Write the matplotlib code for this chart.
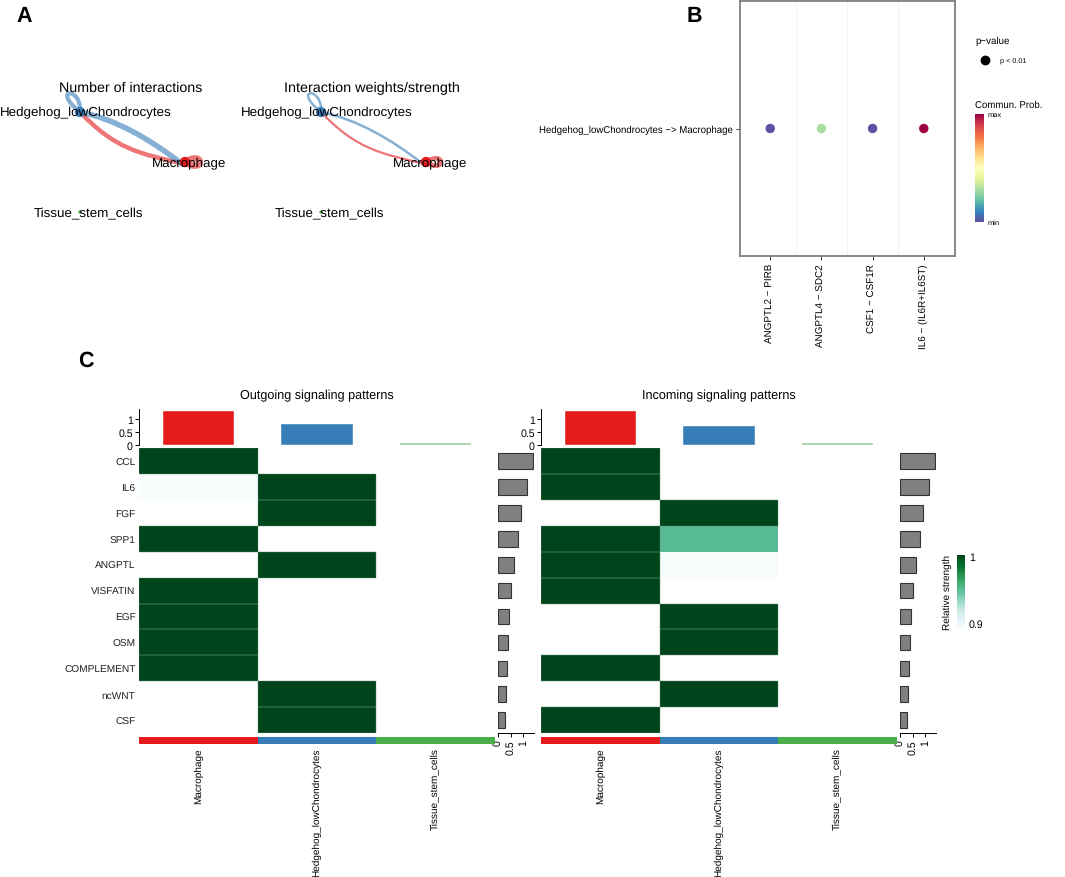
import numpy as np
import matplotlib
matplotlib.use('Agg')
import matplotlib.pyplot as plt
from matplotlib.path import Path
from matplotlib.patches import PathPatch, Rectangle
from matplotlib.colors import LinearSegmentedColormap

plt.rcParams['font.family'] = ['Liberation Sans', 'DejaVu Sans']
plt.rcParams['text.hinting'] = 'none'

W, H = 1065, 878
nan = np.nan

# panel C data
pathways = ['CCL', 'IL6', 'FGF', 'SPP1', 'ANGPTL', 'VISFATIN', 'EGF', 'OSM', 'COMPLEMENT', 'ncWNT', 'CSF']
cell_groups = ['Macrophage', 'Hedgehog_lowChondrocytes', 'Tissue_stem_cells']
group_colors = ['#e41a1c', '#377eb8', '#4daf4a']

outgoing = [[1, nan, nan], [0.9, 1, nan], [nan, 1, nan], [1, nan, nan], [nan, 1, nan], [1, nan, nan],
            [1, nan, nan], [1, nan, nan], [1, nan, nan], [nan, 1, nan], [nan, 1, nan]]
incoming = [[1, nan, nan], [1, nan, nan], [nan, 1, nan], [1, 0.955, nan], [1, 0.9, nan], [1, nan, nan],
            [nan, 1, nan], [nan, 1, nan], [1, nan, nan], [nan, 1, nan], [1, nan, nan]]
outgoing_top = [1.3, 0.8, 0.06]
incoming_top = [1.3, 0.73, 0.06]
outgoing_side = [1.4, 1.16, 0.92, 0.8, 0.64, 0.52, 0.44, 0.4, 0.36, 0.32, 0.28]
incoming_side = [1.4, 1.16, 0.92, 0.8, 0.64, 0.52, 0.44, 0.4, 0.36, 0.32, 0.28]

# panel B data
lr_pairs = ['ANGPTL2 \u2212 PIRB', 'ANGPTL4 \u2212 SDC2', 'CSF1 \u2212 CSF1R', 'IL6 \u2212 (IL6R+IL6ST)']
pair_label = 'Hedgehog_lowChondrocytes \u2212> Macrophage'
comm_prob = [0.0, 0.3, 0.0, 1.0]

# panel A data, network curves in picture pixels relative to the Hedgehog node
node_names = ['Hedgehog_lowChondrocytes', 'Macrophage', 'Tissue_stem_cells']
node_colors = ['#377eb8', '#e41a1c', '#4daf4a']
node_xy = [(0, 0), (105, 50), (0, 100)]
curve_out = [(0, 0), (35, 37), (60, 42), (105, 52)]
curve_in = [(0, 0), (35, 7), (70, 27), (102, 52)]
loop_blue = [(0, 0), (-30, -24), (2, -26), (0, 0)]
loop_red = [(105, 50), (125, 37), (125, 63), (105, 50)]


def px_axes(x0, y0, x1, y1, **kw):
    # axes from a box given in picture pixels
    return fig.add_axes([x0 / W, 1 - y1 / H, (x1 - x0) / W, (y1 - y0) / H], **kw)


def bezier(ax, pts, ox, oy, color, lw, alpha=0.6):
    pts = [(x + ox, y + oy) for x, y in pts]
    path = Path(pts, [Path.MOVETO, Path.CURVE4, Path.CURVE4, Path.CURVE4])
    ax.add_patch(PathPatch(path, fill=False, edgecolor=color, lw=lw, alpha=alpha, capstyle='round'))


fig = plt.figure(figsize=(W / 100, H / 100), dpi=100)
page = px_axes(0, 0, W, H)
page.set_xlim(0, W)
page.set_ylim(H, 0)
page.axis('off')

page.text(24, 16, 'A', fontsize=15.5, fontweight='bold', va='center', ha='center')
page.text(694, 16, 'B', fontsize=15.5, fontweight='bold', va='center', ha='center')
page.text(86, 361, 'C', fontsize=15.5, fontweight='bold', va='center', ha='center')


# panel A
def network(ox, title, title_x, size, lw_out, lw_in, lw_loop):
    oy = 113
    bezier(page, curve_out, ox, oy, group_colors[0], lw_out)
    bezier(page, curve_in, ox, oy, group_colors[1], lw_in)
    bezier(page, loop_blue, ox, oy, group_colors[1], lw_loop)
    bezier(page, loop_red, ox, oy, group_colors[0], lw_loop + 1.5)
    xs = [p[0] + ox for p in node_xy]
    ys = [p[1] + oy for p in node_xy]
    page.scatter(xs, ys, s=[55, 55, 6], c=node_colors, linewidths=0, zorder=3)
    page.text(title_x, 88.5, title, fontsize=size, ha='center', va='center', zorder=4)
    page.text(xs[0] + 6, ys[0], node_names[0], fontsize=9.65, ha='center', va='center', zorder=4)
    page.text(xs[1] + 4, ys[1] + 1, node_names[1], fontsize=9.65, ha='center', va='center', zorder=4)
    page.text(xs[2] + 8, ys[2] + 1, node_names[2], fontsize=9.65, ha='center', va='center', zorder=4)


network(80, 'Number of interactions', 130.5, 10.3, 3.2, 4.0, 3.0)
network(321, 'Interaction weights/strength', 371.5, 10.35, 1.6, 1.8, 1.8)

# panel B
ax = px_axes(739.5, 2, 954.5, 257)
x_pos = np.arange(1, len(lr_pairs) + 1)
ax.scatter(x_pos, [1] * len(x_pos), c=comm_prob, cmap='Spectral_r', vmin=0, vmax=1, s=46, linewidths=0, zorder=3)
ax.set_xlim(0.4, len(lr_pairs) + 0.6)
ax.set_ylim(0.4, 1.6)
ax.set_xticks(x_pos)
ax.set_xticklabels(lr_pairs, rotation=90, fontsize=7.1)
ax.set_yticks([1])
ax.set_yticklabels([pair_label], fontsize=6.95)
ax.tick_params(length=3, width=0.7, color='#333333', pad=2)
for mid in x_pos[:-1] + 0.5:
    ax.axvline(mid, color='#f0f0f0', lw=0.6, zorder=1)
for s in ax.spines.values():
    s.set_color('#7f7f7f')
    s.set_linewidth(1.3)

page.text(975, 41, 'p\u2212value', fontsize=7, va='center')
page.scatter([985], [61], s=50, c='black', linewidths=0)
page.text(1000, 61.5, 'p < 0.01', fontsize=5.2, va='center')
page.text(975, 105, 'Commun. Prob.', fontsize=6.9, va='center')
cb = px_axes(975, 115, 983.5, 223)
cb.imshow(np.linspace(1, 0, 256)[:, None], aspect='auto', cmap='Spectral_r')
cb.axis('off')
page.text(988, 115.5, 'max', fontsize=5.4, va='center')
page.text(988, 223.5, 'min', fontsize=5.4, va='center')

# panel C
strength = LinearSegmentedColormap.from_list('strength', plt.get_cmap('BuGn')(np.linspace(0, 1, 256)))
n_rows = len(pathways)
n_cols = len(cell_groups)


def signaling(x0, x1, side_x, title, matrix, top_vals, side_vals, show_rows):
    top = 449.3
    bottom = 734
    heat = px_axes(x0, top, x1, bottom)
    heat.pcolormesh(np.arange(n_cols + 1), np.arange(n_rows + 1), np.ma.masked_invalid(matrix),
                    cmap=strength, vmin=0.9, vmax=1)
    # faint lighter outline round the full-strength cells
    for r, row in enumerate(matrix):
        for c, val in enumerate(row):
            if val == 1:
                heat.add_patch(Rectangle((c, r), 1, 1, fill=False, edgecolor='#5f8f72', linewidth=0.3))
    heat.set_xlim(0, n_cols)
    heat.set_ylim(n_rows, 0)
    heat.set_xticks([])
    heat.set_yticks(np.arange(n_rows) + 0.5)
    heat.set_yticklabels(pathways if show_rows else [], fontsize=7.3, color='#222222')
    heat.tick_params(length=0, pad=2.5)
    for s in heat.spines.values():
        s.set_visible(False)

    bar_top = px_axes(x0, 410, x1, 446)
    bar_top.bar(np.arange(n_cols) + 0.5, top_vals, width=0.6, color=group_colors, edgecolor='white', linewidth=0.3)
    bar_top.patches[2].set_alpha(0.5)
    bar_top.set_xlim(0, n_cols)
    bar_top.set_ylim(0, 36 / 26)
    bar_top.set_yticks([0, 0.5, 1])
    bar_top.set_yticklabels(['0', '0.5', '1'], fontsize=7.6)
    bar_top.set_xticks([])
    bar_top.tick_params(length=3, width=0.7, pad=1.5)
    for name in ['top', 'right', 'bottom']:
        bar_top.spines[name].set_visible(False)
    bar_top.spines['left'].set_linewidth(0.7)
    bar_top.patch.set_alpha(0)

    side = px_axes(side_x, top, side_x + 36, bottom)
    side.barh(np.arange(n_rows) + 0.5, side_vals, height=0.6, color='#808080', edgecolor='#333333', linewidth=0.8)
    side.set_ylim(n_rows, 0)
    side.set_xlim(0, 36 / 25)
    side.set_yticks([])
    side.set_xticks([0, 0.5, 1])
    side.set_xticklabels(['0', '0.5', '1'], fontsize=7.6, rotation=90)
    side.tick_params(length=3, width=0.7, pad=1.5)
    for name in ['top', 'right', 'left']:
        side.spines[name].set_visible(False)
    side.spines['bottom'].set_linewidth(0.7)

    anno = px_axes(x0, 737.5, x1, 745)
    anno.bar(np.arange(n_cols) + 0.5, [1] * n_cols, width=1, color=group_colors)
    anno.set_xlim(0, n_cols)
    anno.set_ylim(0, 1)
    anno.axis('off')

    col_w = (x1 - x0) / n_cols
    for i, name in enumerate(cell_groups):
        page.text(x0 + (i + 0.5) * col_w, 748.5, name, rotation=90, fontsize=7.2, ha='center', va='top')
    page.text((x0 + x1) / 2, 396, title, fontsize=9.1, ha='center', va='center')


signaling(139, 495, 498, 'Outgoing signaling patterns', outgoing, outgoing_top, outgoing_side, True)
signaling(541, 897, 900, 'Incoming signaling patterns', incoming, incoming_top, incoming_side, False)

cb2 = px_axes(957, 556, 965, 630)
cb2.imshow(np.linspace(1, 0, 256)[:, None], aspect='auto', cmap=strength)
cb2.axis('off')
page.text(947, 592, 'Relative strength', rotation=90, fontsize=7.2, ha='center', va='center')
page.text(969, 558, '1', fontsize=7.6, va='center')
page.text(969, 625, '0.9', fontsize=7.6, va='center')

fig.savefig('out.png', dpi=100)
